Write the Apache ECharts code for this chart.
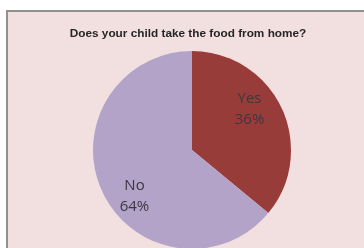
<!DOCTYPE html>
<html>
<head>
<meta charset="utf-8">
<script src="https://cdn.jsdelivr.net/npm/echarts@6/dist/echarts.min.js"></script>
<style>
  html, body { margin: 0; padding: 0; background: #fff; }
  #frame {
    position: absolute; left: 6px; top: 10px; width: 370px; height: 250px;
    background: #f2dfdf; border: 2px solid #909090; box-sizing: border-box;
  }
  #chart { position: absolute; left: 0; top: 0; width: 364px; height: 248px; }
</style>
</head>
<body>
<div id="frame"></div>
<div id="chart"></div>
<script>
// 資料
var categories = ['Yes', 'No'];
var values = [36, 64];
var colors = ['#983c39', '#b3a3c8'];
// 標籤微調
var labelOffsets = [[10, -18], [-10, 24]];

var chart = echarts.init(document.getElementById('chart'));

var option = {
    backgroundColor: 'transparent',
    animation: false,
    title: {
        text: 'Does your child take the food from home?',
        left: 183,
        textAlign: 'center',
        top: 23,
        textStyle: {
            fontFamily: 'Liberation Sans',
            fontWeight: 'bold',
            fontSize: 11.8,
            color: '#262626'
        }
    },
    series: [{
        type: 'pie',
        center: [192, 150],
        radius: 99,
        startAngle: 90,
        clockwise: true,
        silent: true,
        itemStyle: { borderWidth: 0 },
        label: {
            position: 'inside',
            formatter: '{b}\n{d}%',
            fontFamily: 'Open Sans',
            fontSize: 15,
            lineHeight: 21,
            color: '#3d3742'
        },
        labelLine: { show: false },
        data: categories.map(function(name, i) {
            return {
                name: name,
                value: values[i],
                itemStyle: { color: colors[i] },
                label: { offset: labelOffsets[i] }
            };
        })
    }]
};

chart.setOption(option);
</script>
</body>
</html>
